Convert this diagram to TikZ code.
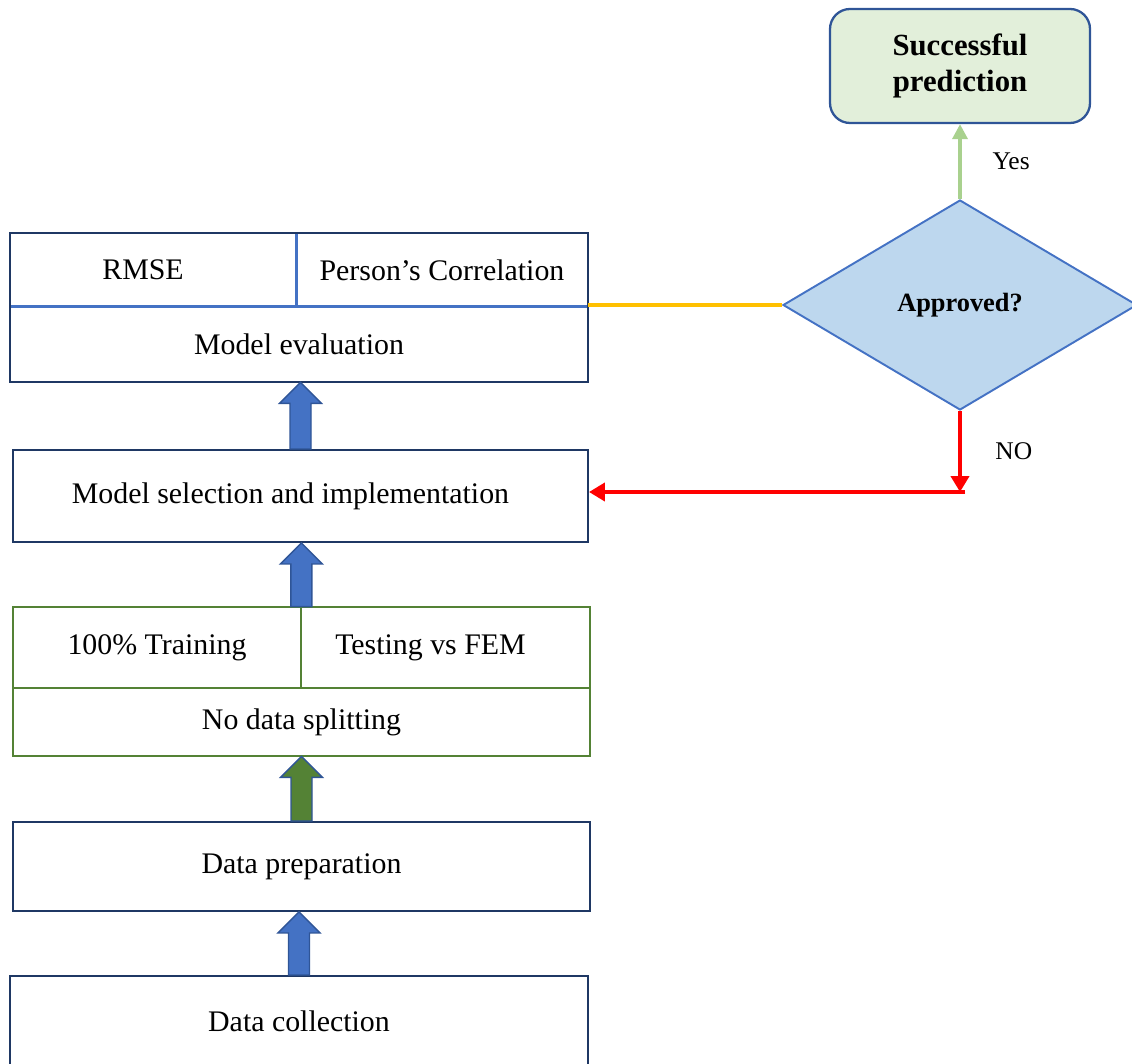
\documentclass[tikz,border=0pt]{standalone}
\usepackage{fontspec}
\setmainfont{Liberation Serif}
\usepackage{tikz}
\usetikzlibrary{arrows.meta,positioning,shapes.geometric,calc}
\definecolor{navy}{HTML}{1F3864}
\definecolor{rule}{HTML}{4472C4}
\definecolor{leaf}{HTML}{548235}
\definecolor{diafill}{HTML}{BDD7EE}
\definecolor{goalfill}{HTML}{E2EFDA}
\definecolor{goalbd}{HTML}{2F5597}
\definecolor{yesgreen}{HTML}{A9D18E}
\definecolor{amber}{HTML}{FFC000}
\definecolor{alert}{HTML}{FF0000}
\tikzset{
  cell/.style={inner sep=0pt,font=\fontsize{17}{20}\selectfont},
  frame/.style={draw=navy,line width=1.1pt},
  split/.style={draw=rule,line width=1.4pt},
  greenframe/.style={draw=leaf,line width=1.1pt},
  decision/.style={diamond,draw=rule,fill=diafill,line width=1.1pt,
                   aspect=1.686,minimum width=7.08cm,minimum height=4.2cm,
                   inner sep=0pt,font=\fontsize{15}{18}\selectfont\bfseries},
  goal/.style={draw=goalbd,fill=goalfill,line width=1.3pt,rounded corners=0.4cm,
               minimum width=5.2cm,minimum height=2.28cm,align=center,
               font=\fontsize{17.5}{20}\selectfont\bfseries},
  tag/.style={text=black,font=\fontsize{14.5}{17}\selectfont},
  yesline/.style={-{Triangle[length=0.3cm,width=0.3cm]},line width=2pt,draw=yesgreen,fill=yesgreen},
  noline/.style={-{Triangle[length=0.32cm,width=0.36cm]},line width=2.3pt,draw=alert,fill=alert},
  bridge/.style={line width=2pt,draw=amber},
  blockedge/.style={draw=goalbd,line width=0.8pt,line join=miter},
}
% hollow-style block arrow pointing up: #1 fill, #2 tail anchor, #3 tip anchor
\newcommand{\blockarrow}[3]{%
  \draw[blockedge,fill=#1]
    ($(#2)+(-0.21,0)$) -- ($(#2|-#3)+(-0.21,-0.42)$)
    -- ($(#2|-#3)+(-0.42,-0.42)$) -- (#2|-#3)
    -- ($(#2|-#3)+(0.42,-0.42)$) -- ($(#2|-#3)+(0.21,-0.42)$)
    -- ($(#2)+(0.21,0)$) -- cycle;}

\begin{document}
\begin{tikzpicture}
  \useasboundingbox (0,0) rectangle (22.64,21.26);

  % Model evaluation: two metric cells over one title row
  \node[cell,minimum width=5.72cm,minimum height=1.48cm] (rmse) at (3.06,15.86) {\hspace*{-0.4cm}RMSE};
  \node[cell,minimum width=5.84cm,minimum height=1.48cm] (corr) at (8.84,15.86) {Person’s Correlation};
  \node[cell,minimum width=11.56cm,minimum height=1.5cm] (evalrow) at (5.98,14.37) {Model evaluation};
  \draw[split] (rmse.north east) -- (rmse.south east);
  \draw[split] (evalrow.north west) -- (evalrow.north east);
  \draw[frame] (rmse.north west) rectangle (evalrow.south east);

  % Model selection
  \node[cell,frame,minimum width=11.5cm,minimum height=1.84cm] (select)
    at (6.01,11.34) {\hspace*{-0.4cm}Model selection and implementation};

  % Data splitting: training / testing cells over title row
  \node[cell,minimum width=5.76cm,minimum height=1.62cm] (train) at (3.14,8.31) {100\% Training};
  \node[cell,minimum width=5.78cm,minimum height=1.62cm] (test) at (8.91,8.31) {\hspace*{-0.6cm}Testing vs FEM};
  \node[cell,minimum width=11.54cm,minimum height=1.36cm] (nosplit) at (6.03,6.82) {No data splitting};
  \draw[greenframe] (train.north east) -- (train.south east);
  \draw[greenframe] (nosplit.north west) -- (nosplit.north east);
  \draw[greenframe] (train.north west) rectangle (nosplit.south east);

  % Data preparation and collection
  \node[cell,frame,minimum width=11.54cm,minimum height=1.78cm] (prep)
    at (6.03,3.93) {Data preparation};
  \node[cell,frame,minimum width=11.56cm,minimum height=1.8cm] (collect)
    at (5.98,0.84) {Data collection};

  % Block arrows between the stages
  \blockarrow{rule}{collect.north}{prep.south}
  \blockarrow{leaf}{prep.north}{nosplit.south}
  \blockarrow{rule}{train.north east}{select.south}
  \blockarrow{rule}{select.north}{evalrow.south}

  % Decision and outcome
  \node[decision] (decide) at (19.2,15.16) {Approved?};
  \node[goal] (success) at (19.2,19.94) {Successful\\prediction};

  \draw[bridge] (decide.west -| corr.east) -- (decide.west);
  \draw[yesline] (decide.north) -- (success.south)
    node[midway,right=0.5cm,tag] {Yes};

  % Rejected models go back to selection
  \coordinate (turn) at (19.24,11.42);
  \draw[noline] (decide.south) -- (decide.south |- turn)
    node[midway,right=0.55cm,tag] {NO};
  \draw[noline] ([xshift=0.06cm]turn) -- (turn -| select.east);
\end{tikzpicture}
\end{document}
